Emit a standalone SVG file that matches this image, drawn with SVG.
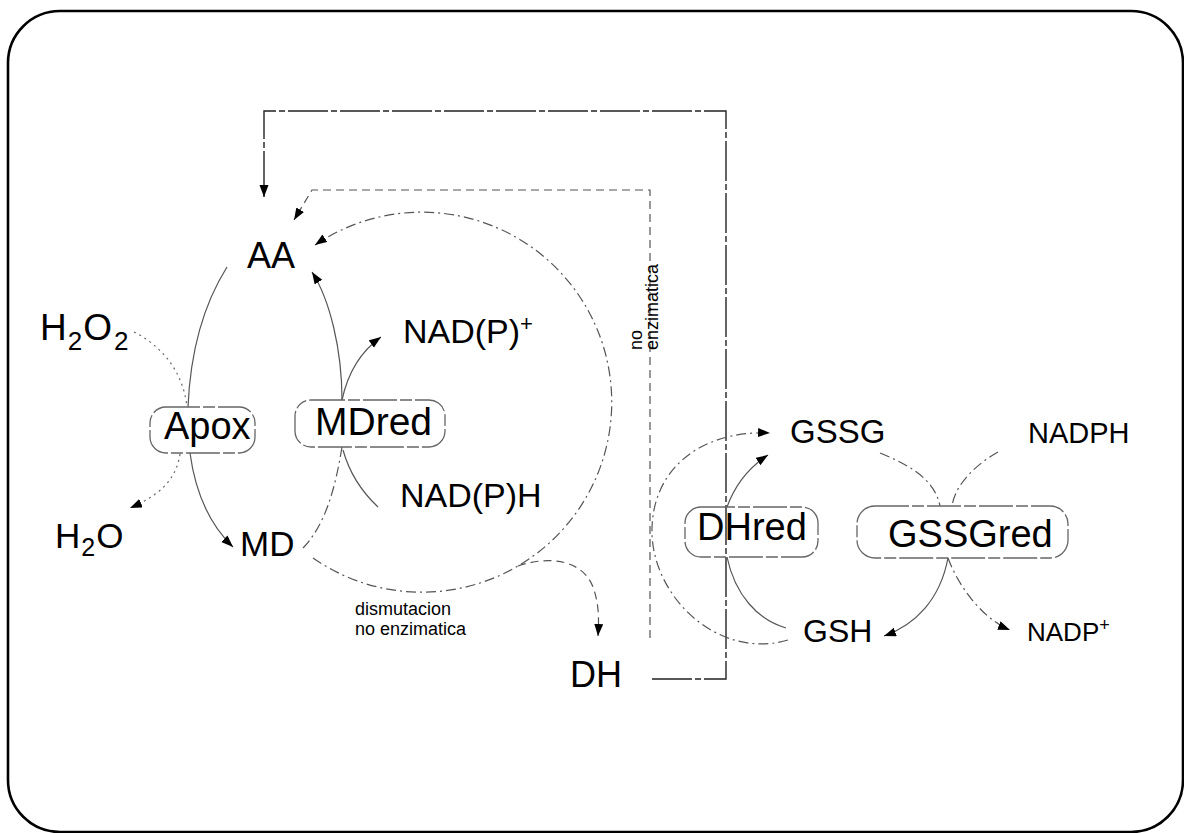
<svg xmlns="http://www.w3.org/2000/svg" width="1184" height="833" viewBox="0 0 1184 833">
<defs>
<marker id="ah" markerUnits="userSpaceOnUse" markerWidth="13" markerHeight="10" refX="12" refY="4.5" orient="auto">
<path d="M0,0 L12,4.5 L0,9 z" fill="#000"/>
</marker>
</defs>
<style>
text{font-family:"Liberation Sans",Arial,sans-serif;fill:#000}
.box{fill:none;stroke:#666;stroke-width:1.3;stroke-dasharray:34 3 12 3}
.ln{fill:none;stroke:#555;stroke-width:1.2}
.dd{fill:none;stroke:#555;stroke-width:1.2;stroke-dasharray:10 4 2 4}
.dot{fill:none;stroke:#666;stroke-width:1.2;stroke-dasharray:2 4}
.dash{fill:none;stroke:#555;stroke-width:1.2;stroke-dasharray:8 5}
.blk{fill:none;stroke:#222;stroke-width:1.4;stroke-dasharray:40 3 6 3}
.big{font-size:36px}
.sm{font-size:18px}
</style>
<rect x="8" y="11" width="1175" height="821" rx="52" fill="none" stroke="#000" stroke-width="2.6"/>
<g id="connectors">
<path class="ln" d="M188 407 C190 360 200 310 227 267"/>
<path class="dot" d="M134 332 C160 345 183 370 187 407"/>
<path class="ln" d="M190 453 C195 490 207 522 233 547" marker-end="url(#ah)"/>
<path class="dot" d="M180 454 C176 480 160 495 130 508" marker-end="url(#ah)"/>
<path class="ln" d="M342 400 C342 350 330 300 312 272" marker-end="url(#ah)"/>
<path class="ln" d="M342 400 C348 372 360 352 381 337" marker-end="url(#ah)"/>
<path class="dd" d="M342 447 C335 490 325 525 303 548"/>
<path class="ln" d="M343 450 C350 475 362 492 378 507"/>
<path class="dd" d="M313 558 A190 190 0 1 0 315 245" marker-end="url(#ah)"/>
<path class="dash" d="M518 566 C550 555 585 560 594 590 C599 605 599 620 598 636" marker-end="url(#ah)"/>
<path class="blk" d="M652 679 H726 V111 H264 V197" marker-end="url(#ah)"/>
<path class="dash" d="M650 638 V190 H312 L294 220" marker-end="url(#ah)"/>
<path class="ln" d="M727 507 C735 485 748 468 768 455" marker-end="url(#ah)"/>
<path class="dd" d="M788 640 C720 660 655 600 652 535 C650 470 700 430 770 433" marker-end="url(#ah)"/>
<path class="ln" d="M727 557 C735 595 758 620 786 628"/>
<path class="dd" d="M880 453 C910 465 935 480 940 506"/>
<path class="dd" d="M998 452 C975 465 955 485 952 506"/>
<path class="ln" d="M948 558 C940 600 915 625 884 636" marker-end="url(#ah)"/>
<path class="dd" d="M948 558 C960 590 985 620 1010 630" marker-end="url(#ah)"/>
</g>
<g id="AA"><text class="big" x="247" y="268">AA</text></g>
<g id="H2O2"><text x="40" y="340" font-size="37">H<tspan font-size="26" dx="1" dy="10">2</tspan><tspan font-size="37" dx="1" dy="-10">O</tspan><tspan font-size="26" dx="2" dy="10">2</tspan></text></g>
<g id="NADPplus"><text x="403" y="343" font-size="34">NAD(P)<tspan font-size="22" dy="-12">+</tspan></text></g>
<g id="Apox"><rect class="box" x="150" y="407" width="105" height="46" rx="16"/><text x="164" y="439" font-size="38">Apox</text></g>
<g id="MDred"><rect class="box" x="295" y="400" width="150" height="47" rx="16"/><text x="315" y="435" font-size="39">MDred</text></g>
<g id="NADPH1"><text x="400" y="507" font-size="34">NAD(P)H</text></g>
<g id="H2O"><text x="55" y="548" font-size="35">H<tspan font-size="25" dx="1" dy="8">2</tspan><tspan font-size="35" dx="1" dy="-8">O</tspan></text></g>
<g id="MD"><text x="240" y="556" font-size="35">MD</text></g>
<g id="dism"><text class="sm" x="355" y="615">dismutacion</text><text class="sm" x="355" y="635">no enzimatica</text></g>
<g id="noenz"><text class="sm" transform="translate(642 350) rotate(-90)">no</text><text class="sm" transform="translate(658 350) rotate(-90)">enzimatica</text></g>
<g id="DH"><text x="570" y="687" font-size="36">DH</text></g>
<g id="GSSG"><text x="790" y="443" font-size="33">GSSG</text></g>
<g id="NADPH"><text x="1028" y="443" font-size="29">NADPH</text></g>
<g id="DHred"><rect class="box" x="685" y="507" width="133" height="50" rx="16"/><text x="697" y="540" font-size="38">DHred</text></g>
<g id="GSSGred"><rect class="box" x="857" y="506" width="211" height="52" rx="18"/><text x="888" y="547" font-size="38">GSSGred</text></g>
<g id="GSH"><text x="803" y="642" font-size="32">GSH</text></g>
<g id="NADPplus2"><text x="1027" y="641" font-size="26">NADP<tspan font-size="18" dy="-10">+</tspan></text></g>
</svg>
